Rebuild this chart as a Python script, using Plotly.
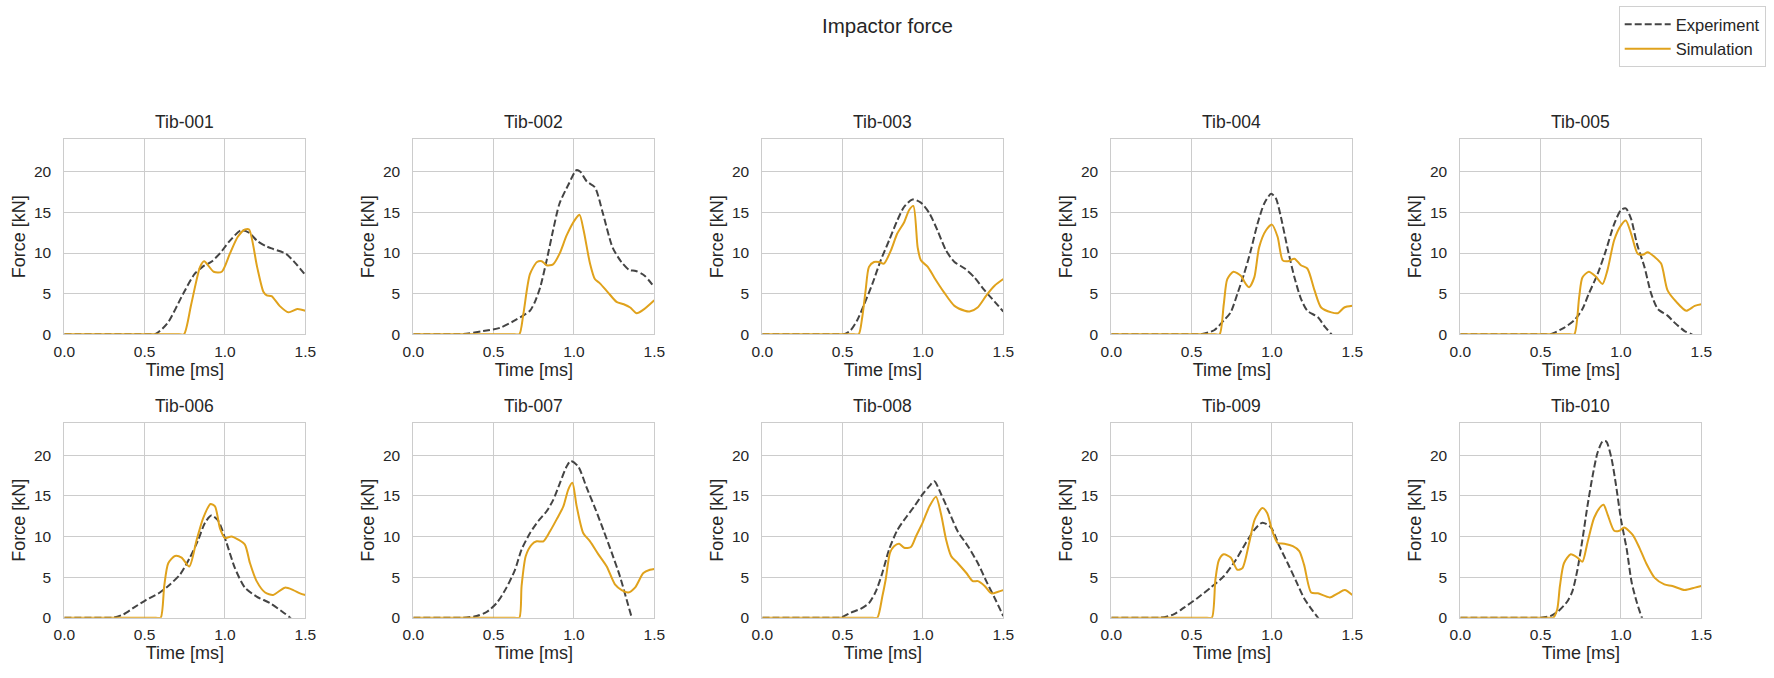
import plotly.graph_objects as go

SPECIMENS = ["Tib-001", "Tib-002", "Tib-003", "Tib-004", "Tib-005",
             "Tib-006", "Tib-007", "Tib-008", "Tib-009", "Tib-010"]

# Experiment (time [ms], force [kN])
EXP_T_001 = [0.0, 0.535, 0.565, 0.64, 0.74, 0.81, 0.86, 0.92, 0.97, 1.03, 1.1, 1.15, 1.2, 1.25, 1.3, 1.38, 1.45, 1.5]
EXP_F_001 = [0.0, 0.0, 0.0, 1.3, 5.0, 7.4, 8.3, 9.0, 10.0, 11.5, 12.8, 12.5, 11.5, 10.9, 10.5, 9.9, 8.5, 7.3]
EXP_T_002 = [0.0, 0.27, 0.3, 0.435, 0.54, 0.64, 0.726, 0.757, 0.79, 0.83, 0.87, 0.91, 0.965, 1.015, 1.04, 1.08, 1.13, 1.18, 1.24, 1.295, 1.345, 1.385, 1.44, 1.5]
EXP_F_002 = [0.0, 0.0, 0.0, 0.4, 0.8, 1.8, 2.9, 4.0, 5.8, 9.1, 12.8, 16.1, 18.4, 20.2, 20.0, 18.8, 18.1, 14.9, 10.7, 8.9, 7.9, 7.8, 7.2, 5.8]
EXP_T_003 = [0.0, 0.48, 0.51, 0.55, 0.59, 0.63, 0.685, 0.737, 0.79, 0.84, 0.883, 0.935, 0.987, 1.04, 1.09, 1.144, 1.196, 1.26, 1.32, 1.384, 1.447, 1.5]
EXP_F_003 = [0.0, 0.0, 0.0, 0.5, 1.7, 3.5, 6.2, 9.1, 11.6, 14.0, 15.7, 16.6, 16.2, 14.9, 12.8, 10.3, 8.9, 8.1, 7.0, 5.4, 4.0, 2.8]
EXP_T_004 = [0.0, 0.525, 0.555, 0.64, 0.7, 0.743, 0.785, 0.826, 0.868, 0.91, 0.952, 0.995, 1.025, 1.056, 1.1, 1.14, 1.18, 1.22, 1.286, 1.33, 1.37, 1.42]
EXP_F_004 = [0.0, 0.0, 0.0, 0.5, 1.7, 2.7, 5.0, 7.4, 10.3, 13.6, 16.1, 17.3, 16.7, 14.4, 10.3, 7.0, 4.4, 2.9, 2.1, 0.9, 0.0, -1.5]
EXP_T_005 = [0.0, 0.53, 0.56, 0.645, 0.708, 0.76, 0.8, 0.854, 0.906, 0.958, 1.0, 1.03, 1.063, 1.1, 1.146, 1.188, 1.23, 1.29, 1.33, 1.396, 1.44, 1.5]
EXP_F_005 = [0.0, 0.0, 0.0, 0.8, 1.7, 3.1, 5.0, 7.4, 10.3, 13.6, 15.3, 15.5, 14.2, 11.1, 8.3, 5.0, 3.1, 2.3, 1.5, 0.4, 0.0, -0.6]
EXP_T_006 = [0.0, 0.275, 0.305, 0.367, 0.43, 0.51, 0.595, 0.658, 0.72, 0.782, 0.834, 0.876, 0.917, 0.959, 1.01, 1.062, 1.124, 1.197, 1.28, 1.353, 1.405, 1.45]
EXP_F_006 = [0.0, 0.0, 0.0, 0.4, 1.2, 2.2, 3.1, 4.1, 5.3, 7.4, 9.6, 11.7, 12.6, 11.9, 9.2, 6.1, 3.7, 2.6, 1.8, 0.8, 0.0, -1.0]
EXP_T_007 = [0.0, 0.28, 0.31, 0.394, 0.456, 0.519, 0.58, 0.633, 0.674, 0.726, 0.778, 0.83, 0.871, 0.913, 0.954, 0.98, 1.027, 1.079, 1.131, 1.183, 1.235, 1.286, 1.328, 1.36, 1.4]
EXP_F_007 = [0.0, 0.0, 0.0, 0.2, 0.7, 1.8, 3.7, 5.9, 8.4, 10.4, 11.9, 13.1, 14.5, 16.6, 18.6, 19.3, 18.6, 16.0, 13.5, 10.8, 8.0, 5.1, 2.2, 0.0, -2.5]
EXP_T_008 = [0.0, 0.457, 0.487, 0.549, 0.612, 0.664, 0.706, 0.747, 0.789, 0.841, 0.893, 0.946, 0.998, 1.04, 1.071, 1.113, 1.165, 1.217, 1.28, 1.342, 1.394, 1.447, 1.5]
EXP_F_008 = [0.0, 0.0, 0.0, 0.6, 1.1, 1.8, 3.2, 5.5, 8.4, 10.8, 12.3, 13.7, 15.2, 16.2, 16.8, 15.2, 12.9, 10.6, 8.8, 6.7, 4.5, 2.4, 0.2]
EXP_T_009 = [0.0, 0.276, 0.306, 0.388, 0.45, 0.535, 0.618, 0.7, 0.775, 0.837, 0.89, 0.94, 0.994, 1.046, 1.098, 1.15, 1.2, 1.255, 1.286, 1.33]
EXP_F_009 = [0.0, 0.0, 0.0, 0.4, 1.2, 2.4, 3.7, 5.1, 7.1, 9.2, 10.8, 11.7, 11.1, 8.8, 6.7, 4.5, 2.4, 0.8, 0.0, -1.2]
EXP_T_010 = [0.0, 0.47, 0.5, 0.56, 0.61, 0.666, 0.697, 0.729, 0.76, 0.791, 0.823, 0.854, 0.886, 0.908, 0.94, 0.97, 1.0, 1.036, 1.067, 1.1, 1.13, 1.16]
EXP_F_010 = [0.0, 0.0, 0.0, 0.2, 0.8, 2.0, 3.2, 5.9, 9.6, 13.7, 17.4, 20.3, 21.7, 21.7, 19.7, 16.2, 12.1, 8.4, 4.3, 1.8, 0.0, -1.5]

# Simulation (time [ms], force [kN])
SIM_T_001 = [0.0, 0.715, 0.745, 0.79, 0.845, 0.87, 0.93, 0.98, 1.03, 1.08, 1.125, 1.15, 1.2, 1.24, 1.26, 1.29, 1.34, 1.395, 1.45, 1.5]
SIM_F_001 = [0.0, 0.0, 0.0, 3.7, 8.3, 9.0, 7.7, 7.7, 9.9, 12.0, 12.9, 12.9, 8.3, 5.2, 4.8, 4.7, 3.5, 2.7, 3.1, 2.9]
SIM_T_002 = [0.0, 0.63, 0.66, 0.685, 0.726, 0.77, 0.8, 0.83, 0.87, 0.91, 0.955, 1.01, 1.035, 1.06, 1.1, 1.13, 1.16, 1.21, 1.265, 1.31, 1.35, 1.39, 1.43, 1.5]
SIM_F_002 = [0.0, 0.0, 0.0, 2.5, 7.4, 8.9, 9.0, 8.5, 8.6, 9.9, 12.2, 14.2, 14.7, 12.8, 8.7, 6.8, 6.3, 5.2, 4.0, 3.7, 3.3, 2.6, 3.0, 4.2]
SIM_T_003 = [0.0, 0.57, 0.6, 0.622, 0.643, 0.664, 0.695, 0.727, 0.757, 0.8, 0.84, 0.883, 0.914, 0.94, 0.967, 0.987, 1.03, 1.07, 1.13, 1.196, 1.26, 1.29, 1.34, 1.395, 1.447, 1.5]
SIM_F_003 = [0.0, 0.0, 0.0, 2.1, 5.4, 8.3, 8.9, 8.9, 8.7, 10.3, 12.4, 13.8, 15.3, 15.8, 10.7, 9.1, 8.3, 7.0, 5.2, 3.5, 2.9, 2.8, 3.3, 4.8, 6.0, 6.8]
SIM_T_004 = [0.0, 0.644, 0.674, 0.7, 0.722, 0.76, 0.806, 0.837, 0.858, 0.89, 0.92, 0.963, 1.0, 1.035, 1.067, 1.1, 1.14, 1.18, 1.22, 1.265, 1.306, 1.37, 1.41, 1.45, 1.5]
SIM_F_004 = [0.0, 0.0, 0.0, 3.7, 6.8, 7.7, 7.2, 6.2, 5.8, 7.0, 10.7, 12.8, 13.5, 12.0, 9.1, 9.0, 9.3, 8.5, 8.1, 5.4, 3.3, 2.7, 2.6, 3.3, 3.5]
SIM_T_005 = [0.0, 0.68, 0.71, 0.74, 0.76, 0.8, 0.843, 0.885, 0.916, 0.958, 1.0, 1.03, 1.063, 1.104, 1.136, 1.167, 1.21, 1.25, 1.29, 1.344, 1.406, 1.459, 1.5]
SIM_F_005 = [0.0, 0.0, 0.0, 4.6, 7.0, 7.7, 7.1, 6.2, 7.9, 11.6, 13.4, 14.0, 12.4, 9.9, 9.8, 10.1, 9.5, 8.7, 5.4, 4.0, 2.9, 3.5, 3.7]
SIM_T_006 = [0.0, 0.57, 0.6, 0.622, 0.647, 0.689, 0.73, 0.778, 0.824, 0.865, 0.91, 0.938, 0.969, 1.0, 1.04, 1.083, 1.124, 1.156, 1.197, 1.25, 1.3, 1.373, 1.425, 1.467, 1.5]
SIM_F_006 = [0.0, 0.0, 0.0, 3.9, 6.7, 7.6, 7.4, 6.3, 9.6, 12.3, 14.0, 13.7, 11.0, 9.8, 10.0, 9.6, 9.0, 6.7, 4.5, 3.1, 2.8, 3.7, 3.4, 3.0, 2.8]
SIM_T_007 = [0.0, 0.63, 0.66, 0.674, 0.7, 0.737, 0.768, 0.81, 0.85, 0.892, 0.934, 0.965, 0.99, 1.017, 1.058, 1.1, 1.152, 1.204, 1.255, 1.297, 1.338, 1.38, 1.432, 1.473, 1.5]
SIM_F_007 = [0.0, 0.0, 0.0, 3.9, 7.6, 9.0, 9.4, 9.4, 10.6, 12.1, 13.7, 15.8, 16.6, 13.7, 10.4, 9.4, 7.8, 6.3, 4.1, 3.4, 3.1, 3.7, 5.5, 5.9, 6.0]
SIM_T_008 = [0.0, 0.686, 0.716, 0.747, 0.768, 0.795, 0.82, 0.852, 0.883, 0.925, 0.956, 0.998, 1.04, 1.081, 1.113, 1.144, 1.175, 1.217, 1.27, 1.31, 1.342, 1.384, 1.426, 1.468, 1.5]
SIM_F_008 = [0.0, 0.0, 0.0, 2.6, 4.7, 8.0, 8.8, 9.1, 8.6, 8.7, 10.0, 11.7, 13.7, 14.9, 12.7, 9.6, 7.6, 6.7, 5.5, 4.5, 4.5, 3.9, 3.0, 3.2, 3.4]
SIM_T_009 = [0.0, 0.596, 0.626, 0.648, 0.67, 0.7, 0.743, 0.785, 0.816, 0.858, 0.893, 0.94, 0.97, 1.0, 1.035, 1.077, 1.13, 1.17, 1.2, 1.244, 1.286, 1.36, 1.41, 1.453, 1.5]
SIM_F_009 = [0.0, 0.0, 0.0, 4.7, 7.1, 7.8, 7.4, 5.9, 6.1, 9.2, 12.1, 13.5, 12.9, 10.8, 9.2, 9.1, 8.8, 8.2, 6.5, 3.1, 3.0, 2.5, 3.0, 3.4, 2.8]
SIM_T_010 = [0.0, 0.548, 0.578, 0.603, 0.62, 0.645, 0.687, 0.729, 0.76, 0.791, 0.833, 0.875, 0.892, 0.917, 0.958, 0.99, 1.02, 1.073, 1.115, 1.157, 1.21, 1.27, 1.32, 1.396, 1.46, 1.5]
SIM_F_010 = [0.0, 0.0, 0.0, 1.0, 3.9, 6.7, 7.8, 7.4, 6.9, 9.2, 12.3, 13.7, 13.9, 12.7, 10.7, 10.7, 11.1, 10.2, 8.6, 6.7, 4.9, 4.1, 3.9, 3.4, 3.7, 3.9]

EXP_T = [EXP_T_001, EXP_T_002, EXP_T_003, EXP_T_004, EXP_T_005, EXP_T_006, EXP_T_007, EXP_T_008, EXP_T_009, EXP_T_010]
EXP_F = [EXP_F_001, EXP_F_002, EXP_F_003, EXP_F_004, EXP_F_005, EXP_F_006, EXP_F_007, EXP_F_008, EXP_F_009, EXP_F_010]
SIM_T = [SIM_T_001, SIM_T_002, SIM_T_003, SIM_T_004, SIM_T_005, SIM_T_006, SIM_T_007, SIM_T_008, SIM_T_009, SIM_T_010]
SIM_F = [SIM_F_001, SIM_F_002, SIM_F_003, SIM_F_004, SIM_F_005, SIM_F_006, SIM_F_007, SIM_F_008, SIM_F_009, SIM_F_010]

X_TICKS = [0.0, 0.5, 1.0, 1.5]
Y_TICKS = [0, 5, 10, 15, 20]

W, H = 1774, 678
FONT = "Liberation Sans, Arial, sans-serif"
TXT = "#262626"
GRID = "#cccccc"
EXP_COLOR = "#444444"
SIM_COLOR = "#e0a21c"

col_left = [64.3, 413.3, 762.3, 1111.3, 1460.3]
pw = 241.0
row_top = [139.3, 422.7]
ph = 195.0

fig = go.Figure()
annotations = []
for i, name in enumerate(SPECIMENS):
    r, c = divmod(i, 5)
    k = i + 1
    xa = "x" if k == 1 else f"x{k}"
    ya = "y" if k == 1 else f"y{k}"
    fig.add_trace(go.Scatter(
        x=EXP_T[i], y=EXP_F[i], mode="lines", name="Experiment",
        line=dict(color=EXP_COLOR, width=2, dash="7px,3px", shape="spline", smoothing=0.7),
        xaxis=xa, yaxis=ya, showlegend=(i == 0), legendgroup="exp"))
    fig.add_trace(go.Scatter(
        x=SIM_T[i], y=SIM_F[i], mode="lines", name="Simulation",
        line=dict(color=SIM_COLOR, width=2, shape="spline", smoothing=0.7),
        xaxis=xa, yaxis=ya, showlegend=(i == 0), legendgroup="sim"))

    x0 = col_left[c] / W
    x1 = (col_left[c] + pw) / W
    y1 = 1 - row_top[r] / H
    y0 = 1 - (row_top[r] + ph) / H
    axkey = "xaxis" if k == 1 else f"xaxis{k}"
    aykey = "yaxis" if k == 1 else f"yaxis{k}"
    fig.update_layout(**{
        axkey: dict(domain=[x0, x1], anchor=ya, range=[0, 1.5], tickvals=X_TICKS,
                    ticktext=[f"{v:.1f}" for v in X_TICKS], showgrid=True, gridcolor=GRID,
                    gridwidth=1, zeroline=False, showline=True, linecolor=GRID, linewidth=1,
                    mirror=True, ticks="outside", ticklen=3, tickcolor="rgba(0,0,0,0)",
                    automargin=False,
                    tickfont=dict(size=15.5, color=TXT, family=FONT),
                    title=dict(text="Time [ms]", font=dict(size=18, color=TXT, family=FONT), standoff=4)),
        aykey: dict(domain=[y0, y1], anchor=xa, range=[0, 24], tickvals=Y_TICKS,
                    showgrid=True, gridcolor=GRID, gridwidth=1, zeroline=False, showline=True,
                    linecolor=GRID, linewidth=1, mirror=True, ticks="outside", ticklen=9,
                    tickcolor="rgba(0,0,0,0)", automargin=False,
                    tickfont=dict(size=15.5, color=TXT, family=FONT),
                    title=dict(text="Force [kN]", font=dict(size=18, color=TXT, family=FONT), standoff=3)),
    })
    annotations.append(dict(
        text=name, xref="paper", yref="paper",
        x=(col_left[c] + pw / 2) / W, y=1 - (row_top[r] - 5) / H,
        xanchor="center", yanchor="bottom", showarrow=False,
        font=dict(size=17.5, color=TXT, family=FONT)))

annotations.append(dict(
    text="Impactor force", xref="paper", yref="paper", x=0.5, y=1 - 25 / H,
    xanchor="center", yanchor="middle", showarrow=False,
    font=dict(size=20.5, color=TXT, family=FONT)))

fig.update_layout(
    width=W, height=H, margin=dict(l=0, r=0, t=0, b=0, autoexpand=False),
    paper_bgcolor="white", plot_bgcolor="white",
    font=dict(family=FONT, color=TXT),
    annotations=annotations,
    legend=dict(x=1765.7 / W, y=1 - 6 / H, xanchor="right", yanchor="top",
                bordercolor="#d0d0d0", borderwidth=1, bgcolor="white",
                font=dict(size=16.5, color=TXT, family=FONT),
                tracegroupgap=0, itemwidth=46),
)

fig.write_html("out.html")
